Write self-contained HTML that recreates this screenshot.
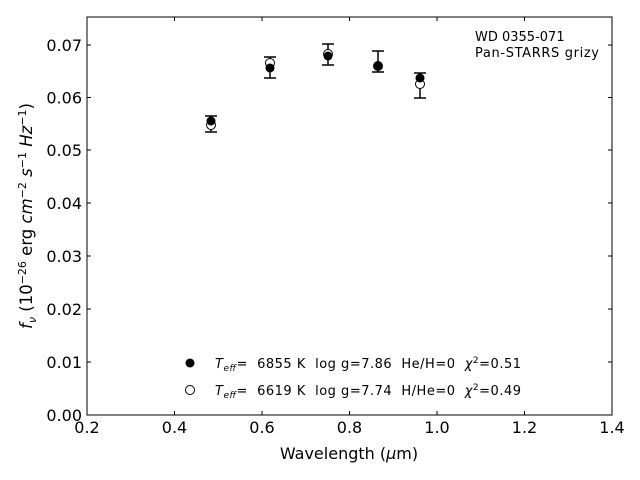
<!DOCTYPE html>
<html><head><meta charset="utf-8"><style>body{margin:0;background:#fff}svg{display:block}text{font-family:"DejaVu Sans","Liberation Sans",sans-serif;white-space:pre}</style></head><body>
<svg width="640" height="480" viewBox="0 0 640 480" xmlns="http://www.w3.org/2000/svg" xml:space="preserve">
<rect x="87" y="17" width="525" height="398" fill="none" stroke="#000" stroke-width="1"/>
<g stroke="#000" stroke-width="1">
<line x1="87" y1="415" x2="87" y2="411"/><line x1="174.5" y1="415" x2="174.5" y2="411"/><line x1="262" y1="415" x2="262" y2="411"/><line x1="349.5" y1="415" x2="349.5" y2="411"/><line x1="437" y1="415" x2="437" y2="411"/><line x1="524.5" y1="415" x2="524.5" y2="411"/><line x1="612" y1="415" x2="612" y2="411"/>
<line x1="87" y1="17" x2="87" y2="21"/><line x1="174.5" y1="17" x2="174.5" y2="21"/><line x1="262" y1="17" x2="262" y2="21"/><line x1="349.5" y1="17" x2="349.5" y2="21"/><line x1="437" y1="17" x2="437" y2="21"/><line x1="524.5" y1="17" x2="524.5" y2="21"/><line x1="612" y1="17" x2="612" y2="21"/>
<line x1="87" y1="362" x2="91" y2="362"/><line x1="87" y1="309" x2="91" y2="309"/><line x1="87" y1="256" x2="91" y2="256"/><line x1="87" y1="203" x2="91" y2="203"/><line x1="87" y1="150" x2="91" y2="150"/><line x1="87" y1="97.5" x2="91" y2="97.5"/><line x1="87" y1="45" x2="91" y2="45"/>
<line x1="612" y1="362" x2="608" y2="362"/><line x1="612" y1="309" x2="608" y2="309"/><line x1="612" y1="256" x2="608" y2="256"/><line x1="612" y1="203" x2="608" y2="203"/><line x1="612" y1="150" x2="608" y2="150"/><line x1="612" y1="97.5" x2="608" y2="97.5"/><line x1="612" y1="45" x2="608" y2="45"/>
</g>
<g font-size="16" text-anchor="middle">
<text x="87" y="433">0.2</text><text x="174.5" y="433">0.4</text><text x="262" y="433">0.6</text><text x="349.5" y="433">0.8</text><text x="437" y="433">1.0</text><text x="524.5" y="433">1.2</text><text x="612" y="433">1.4</text>
</g>
<g font-size="16" text-anchor="end">
<text x="82" y="421">0.00</text><text x="82" y="368">0.01</text><text x="82" y="315">0.02</text><text x="82" y="262">0.03</text><text x="82" y="209">0.04</text><text x="82" y="156">0.05</text><text x="82" y="103.5">0.06</text><text x="82" y="51">0.07</text>
</g>
<text x="349" y="459" font-size="16" text-anchor="middle">Wavelength (<tspan font-style="italic">μ</tspan>m)</text>
<text transform="translate(32,216) rotate(-90)" font-size="16.5" text-anchor="middle"><tspan font-style="italic">f</tspan><tspan font-style="italic" font-size="11" dy="4">ν</tspan><tspan dy="-4"> (10</tspan><tspan font-size="11" dy="-6">−26</tspan><tspan dy="6"> erg </tspan><tspan font-style="italic">cm</tspan><tspan font-size="11" dy="-6">−2</tspan><tspan dy="6"> </tspan><tspan font-style="italic">s</tspan><tspan font-size="11" dy="-6">−1</tspan><tspan dy="6"> </tspan><tspan font-style="italic">Hz</tspan><tspan font-size="11" dy="-6">−1</tspan><tspan dy="6">)</tspan></text>
<text x="475" y="41" font-size="13">WD 0355-071</text>
<text x="475" y="57" font-size="13" textLength="124">Pan-STARRS grizy</text>
<g stroke="#000" stroke-width="1.5" fill="none">
<path d="M211 116V132M205 116H217M205 132H217"/>
<path d="M270 57V78M264 57H276M264 78H276"/>
<path d="M328 44V65M322 44H334M322 65H334"/>
<path d="M378 51V72M372 51H384M372 72H384"/>
<path d="M420 73V98M414 73H426M414 98H426"/>
</g>
<g stroke="#000" stroke-width="1" fill="#fff">
<circle cx="211" cy="125" r="4.5"/><circle cx="270" cy="63" r="4.5"/><circle cx="328" cy="54" r="4.5"/><circle cx="378" cy="66" r="4.5"/><circle cx="420" cy="84" r="4.5"/>
</g>
<g fill="#000">
<circle cx="211" cy="121" r="4.5"/><circle cx="270" cy="68" r="4.5"/><circle cx="328" cy="56" r="4.5"/><circle cx="378" cy="66" r="4.5"/><circle cx="420" cy="78" r="4.5"/>
</g>
<circle cx="190" cy="363" r="4.5" fill="#000"/>
<circle cx="190" cy="390" r="4.5" fill="#fff" stroke="#000"/>
<g font-size="13">
<text x="215" y="368" textLength="306"><tspan font-style="italic">T</tspan><tspan font-style="italic" font-size="9" dy="3">eff</tspan><tspan dy="-3">=  6855 K  log g=7.86  He/H=0  </tspan><tspan font-style="italic">χ</tspan><tspan font-size="9" dy="-5">2</tspan><tspan dy="5">=0.51</tspan></text>
<text x="215" y="395" textLength="306"><tspan font-style="italic">T</tspan><tspan font-style="italic" font-size="9" dy="3">eff</tspan><tspan dy="-3">=  6619 K  log g=7.74  H/He=0  </tspan><tspan font-style="italic">χ</tspan><tspan font-size="9" dy="-5">2</tspan><tspan dy="5">=0.49</tspan></text>
</g>
</svg>
</body></html>
